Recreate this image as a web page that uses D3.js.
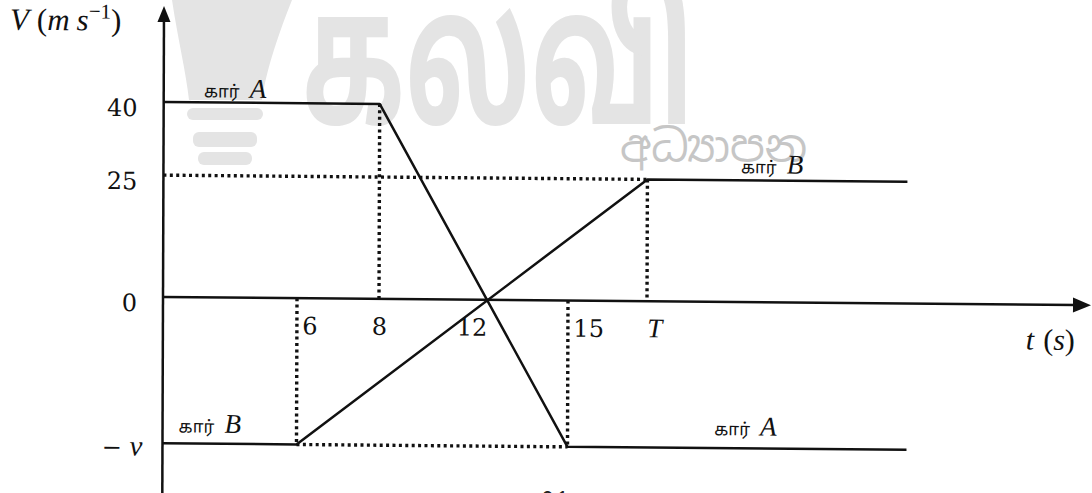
<!DOCTYPE html>
<html>
<head>
<meta charset="utf-8">
<script src="https://cdn.jsdelivr.net/npm/d3@7"></script>
<style>
  html, body { margin: 0; padding: 0; background: #fff; }
  svg { display: block; }
</style>
</head>
<body>
<svg id="chart" width="1092" height="493"></svg>
<script>
// ---- data -------------------------------------------------------------
// time break points of the sketch (s); 17 is the instant labelled T
const timeBreaks = [0, 6, 8, 12, 15, 17, 26.6];
const tickTimes = [6, 8, 12, 15, 17];
const tickLabels = ["6", "8", "12", "15", "T"];

// speed marks on the vertical axis (m/s); -30 is the value labelled −v
const speedTicks = [40, 25, 0, -30];
const speedLabels = ["40", "25", "0", "−v"];

// car A: 40 m/s until 8 s, then decelerates through 0 at 12 s to −v at 15 s
const carATimes = [0, 8, 15, 26.6];
const carASpeeds = [40, 40, -30, -30];

// car B: −v until 6 s, then accelerates through 0 at 12 s up to 25 m/s at T
const carBTimes = [0, 6, 17, 26.6];
const carBSpeeds = [-30, -30, 25, 25];

// dotted projection lines, from (start time, start speed) to (end time, end speed)
const guideStartTimes = [8, 0, 17, 6, 15, 6];
const guideStartSpeeds = [40, 25, 25, 0, 0, -30];
const guideEndTimes = [8, 17, 17, 6, 15, 15];
const guideEndSpeeds = [0, 25, 0, -30, -30, -30];

// series labels, placed along the level segments
const carLabelWord = "கார்";
const carNames = ["A", "B", "B", "A"];
const carLabelTimes = [1.8, 20.45, 0.72, 19.5];
const carLabelSpeeds = [40, 25, -30, -30];

// ---- layout -----------------------------------------------------------
const svg = d3.select("#chart");
const serif = "'DejaVu Serif', 'Liberation Serif', serif";
const mathIt = "'Liberation Serif', 'DejaVu Serif', serif";
const tamil = "'Noto Sans Tamil', 'Lohit Tamil', sans-serif";
const ink = "#111";

// the sketch is drawn to a schematic (piecewise) time scale
const x = d3.scaleLinear()
  .domain(timeBreaks)
  .range([163, 297, 379, 487, 568, 647, 907]);
const y = d3.scaleLinear()
  .domain([40, -30])
  .range([102, 443.3]);

// faint publisher watermark behind the drawing
const mark = svg.append("g").attr("class", "watermark");
const wmGrey = "#e4e4e4";
mark.append("path")
  .attr("d", "M172,0 C178,40 186,72 189,100 L262,100 C266,70 280,30 292,0 Z")
  .attr("fill", wmGrey);
[[187, 108, 76, 12], [193, 132, 64, 15], [198, 152, 54, 13]].forEach(r => {
  mark.append("rect").attr("x", r[0]).attr("y", r[1]).attr("width", r[2]).attr("height", r[3])
    .attr("rx", 6).attr("fill", wmGrey);
});
mark.append("text")
  .attr("x", 302).attr("y", 124)
  .attr("font-family", tamil)
  .attr("font-weight", "bold")
  .attr("font-size", 190)
  .attr("textLength", 392)
  .attr("lengthAdjust", "spacingAndGlyphs")
  .attr("fill", wmGrey)
  .text("கல்வி");
mark.append("text")
  .attr("x", 620).attr("y", 162)
  .attr("font-family", "'Noto Sans Sinhala', sans-serif")
  .attr("font-size", 44)
  .attr("fill", "#c6c6c6")
  .text("අධ්‍යාපන");

// the whole drawing sits with a slight skew
const g = svg.append("g")
  .attr("transform", "translate(163,297) matrix(1,0.0088,-0.0035,1,0,0) translate(-163,-297)");

// axes with arrow heads
const x0 = x(0), y0 = y(0);
const axisW = 2.5;
g.append("line").attr("x1", x0).attr("y1", 493).attr("x2", x0).attr("y2", 20)
  .attr("stroke", ink).attr("stroke-width", axisW);
g.append("path").attr("d", `M${x0},6 L${x0 - 6.5},22 L${x0 + 6.5},22 Z`).attr("fill", ink);
g.append("line").attr("x1", x0).attr("y1", y0).attr("x2", 1076).attr("y2", y0)
  .attr("stroke", ink).attr("stroke-width", axisW);
g.append("path").attr("d", `M1091,${y0} L1073,${y0 - 7.5} L1073,${y0 + 7.5} Z`).attr("fill", ink);

// dotted guides
g.append("g").selectAll("line")
  .data(guideStartTimes.map((t, i) => i))
  .join("line")
  .attr("x1", i => x(guideStartTimes[i])).attr("y1", i => y(guideStartSpeeds[i]))
  .attr("x2", i => x(guideEndTimes[i])).attr("y2", i => y(guideEndSpeeds[i]))
  .attr("stroke", ink).attr("stroke-width", 3.4).attr("stroke-dasharray", "3,3.4");

// velocity-time lines of both cars
const line = d3.line().x(d => x(d[0])).y(d => y(d[1]));
[[carATimes, carASpeeds], [carBTimes, carBSpeeds]].forEach(([ts, vs]) => {
  g.append("path")
    .attr("d", line(ts.map((t, i) => [t, vs[i]])))
    .attr("fill", "none").attr("stroke", ink).attr("stroke-width", 2.5)
    .attr("stroke-linejoin", "round");
});

// vertical axis labels
const yAxis = d3.axisLeft(y).tickValues(speedTicks).tickSize(0).tickPadding(26)
  .tickFormat((d, i) => speedLabels[i]);
const ya = g.append("g").attr("transform", `translate(${x0},0)`).call(yAxis);
ya.select(".domain").remove();
ya.selectAll("text")
  .attr("font-family", serif).attr("font-size", 24).attr("fill", ink)
  .attr("dy", "0.58em")
  .each(function (d, i) {
    if (speedLabels[i] === "−v") {
      const t = d3.select(this).text("");
      t.append("tspan").text("− ");
      t.append("tspan").attr("font-family", mathIt).attr("font-style", "italic").attr("font-size", 29).text("v");
      t.attr("dx", 6).attr("dy", "0.5em");
    }
  });

// time axis labels
const xAxis = d3.axisBottom(x).tickValues(tickTimes).tickSize(0).tickPadding(36)
  .tickFormat((d, i) => tickLabels[i]);
const xa = g.append("g").attr("transform", `translate(0,${y0})`).call(xAxis);
xa.select(".domain").remove();
xa.selectAll("text")
  .attr("font-family", serif).attr("font-size", 24).attr("fill", ink)
  .attr("dy", "0")
  .each(function (d, i) {
    const t = d3.select(this);
    const guided = guideStartTimes.includes(d) || guideEndTimes.includes(d);
    if (d === 12) t.attr("text-anchor", "end");
    else if (d === 8) t.attr("text-anchor", "middle");
    else if (guided) t.attr("text-anchor", "start").attr("dx", d === 17 ? 0 : 5);
    if (tickLabels[i] === "T") t.attr("font-family", mathIt).attr("font-style", "italic").attr("font-size", 27);
  });

// axis titles
const vt = g.append("text").attr("x", 9).attr("y", 31)
  .attr("font-family", mathIt).attr("font-size", 31).attr("fill", ink);
vt.append("tspan").attr("font-style", "italic").text("V");
vt.append("tspan").attr("dx", 8).text("(");
vt.append("tspan").attr("font-style", "italic").text("m");
vt.append("tspan").attr("font-style", "italic").attr("dx", 7).text("s");
vt.append("tspan").attr("font-size", 21).attr("dy", -12).text("−1");
vt.append("tspan").attr("dy", 12).text(")");

const tt = g.append("text").attr("x", 1026).attr("y", 342)
  .attr("font-family", mathIt).attr("font-size", 30).attr("fill", ink);
tt.append("tspan").attr("font-style", "italic").text("t");
tt.append("tspan").attr("dx", 9).text("(");
tt.append("tspan").attr("font-style", "italic").text("s");
tt.append("tspan").text(")");

// car labels above their level segments
const labelLift = [5, 7, 11, 13];
carNames.forEach((name, i) => {
  const t = g.append("text")
    .attr("x", x(carLabelTimes[i])).attr("y", y(carLabelSpeeds[i]) - labelLift[i])
    .attr("fill", ink);
  t.append("tspan").attr("font-family", tamil).attr("font-size", 17).text(carLabelWord);
  t.append("tspan").attr("dx", 10).attr("font-family", mathIt).attr("font-style", "italic").attr("font-size", 27).text(name);
});

// figure caption, cut by the lower edge
svg.append("text").attr("x", 483).attr("y", 507)
  .attr("font-family", tamil).attr("font-size", 22).attr("letter-spacing", 2).attr("fill", "#222")
  .text("உரு 01");
</script>
</body>
</html>
